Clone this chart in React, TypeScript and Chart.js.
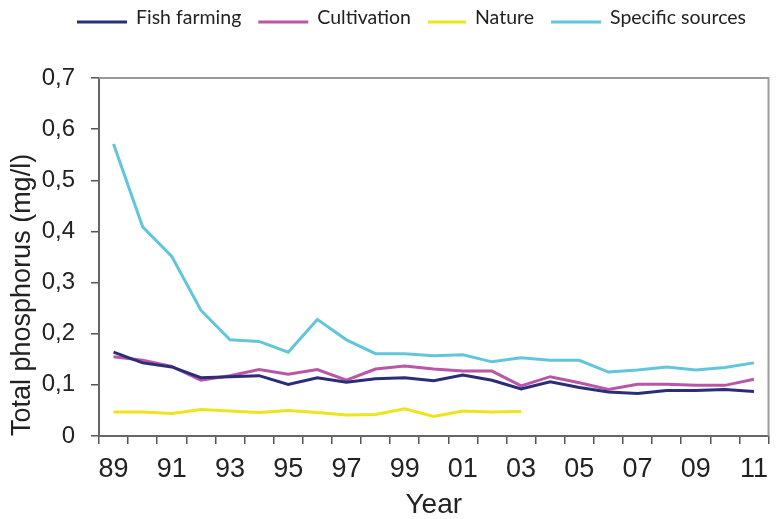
import React, { useEffect, useRef } from 'react';
import { Chart, registerables } from 'chart.js';

Chart.register(...registerables);

const years = ['89', '90', '91', '92', '93', '94', '95', '96', '97', '98', '99', '00', '01', '02', '03', '04', '05', '06', '07', '08', '09', '10', '11'];

const fishFarming = [0.164, 0.143, 0.135, 0.114, 0.116, 0.118, 0.101, 0.114, 0.105, 0.112, 0.114, 0.108, 0.119, 0.109, 0.092, 0.106, 0.095, 0.086, 0.083, 0.089, 0.089, 0.091, 0.087];
const cultivation = [0.155, 0.148, 0.136, 0.109, 0.118, 0.130, 0.121, 0.130, 0.109, 0.131, 0.137, 0.131, 0.127, 0.127, 0.098, 0.116, 0.104, 0.091, 0.101, 0.101, 0.099, 0.099, 0.111];
const nature = [0.047, 0.047, 0.044, 0.052, 0.049, 0.046, 0.050, 0.046, 0.041, 0.042, 0.053, 0.038, 0.049, 0.047, 0.048, null, null, null, null, null, null, null, null];
const specificSources = [0.571, 0.409, 0.351, 0.246, 0.188, 0.185, 0.164, 0.228, 0.188, 0.161, 0.161, 0.157, 0.159, 0.145, 0.153, 0.148, 0.148, 0.125, 0.129, 0.135, 0.129, 0.134, 0.143];

const seriesNames = ['Fish farming', 'Cultivation', 'Nature', 'Specific sources'];
const seriesColors = ['#2a2d78', '#bb55a8', '#eee41c', '#62c6da'];
const yTicks = [0, 0.1, 0.2, 0.3, 0.4, 0.5, 0.6, 0.7];

const AXIS_FONT = "Arial, 'Liberation Sans', sans-serif";

const legendPlugin = {
  id: 'customLegend',
  afterDraw(chart: any) {
    const ctx = chart.ctx;
    ctx.save();
    ctx.font = "19.5px Lato, 'Open Sans', sans-serif";
    let x = 77;
    chart.data.datasets.forEach((ds: any, i: number) => {
      const lineLen = i === 2 ? 38 : 50;
      ctx.strokeStyle = ds.borderColor;
      ctx.lineWidth = 3;
      ctx.beginPath();
      ctx.moveTo(x, 22);
      ctx.lineTo(x + lineLen, 22);
      ctx.stroke();
      x += lineLen + 9;
      ctx.fillStyle = '#222';
      ctx.textBaseline = 'alphabetic';
      ctx.textAlign = 'left';
      ctx.fillText(ds.label, x, 24);
      x += ctx.measureText(ds.label).width + 17;
    });
    ctx.restore();
  },
};

const framePlugin = {
  id: 'frame',
  beforeDatasetsDraw(chart: any) {
    const { ctx, chartArea } = chart;
    ctx.save();
    ctx.strokeStyle = '#9a9a9a';
    ctx.lineWidth = 2;
    ctx.beginPath();
    ctx.moveTo(chartArea.left, chartArea.top);
    ctx.lineTo(chartArea.right, chartArea.top);
    ctx.lineTo(chartArea.right, chartArea.bottom);
    ctx.stroke();
    ctx.restore();
  },
};

export default function App() {
  const ref = useRef<HTMLCanvasElement>(null);
  useEffect(() => {
    const seriesData = [fishFarming, cultivation, nature, specificSources];
    const chart = new Chart(ref.current!, {
      type: 'line',
      data: {
        labels: years,
        datasets: seriesNames.map((name, i) => ({
          label: name,
          data: seriesData[i],
          borderColor: seriesColors[i],
          backgroundColor: seriesColors[i],
          borderWidth: 3,
          pointRadius: 0,
          tension: 0,
          spanGaps: false,
        })),
      },
      options: {
        animation: false,
        responsive: false,
        devicePixelRatio: 1,
        layout: { padding: { top: 78, right: 1, left: 0, bottom: 0 } },
        plugins: { legend: { display: false }, tooltip: { enabled: false } },
        scales: {
          x: {
            type: 'category',
            offset: true,
            afterFit(scale: any) { scale.height = 83; },
            grid: { display: true, offset: true, drawOnChartArea: false, drawTicks: true, tickLength: 8, color: '#555', lineWidth: 1.5 },
            border: { display: true, color: '#666', width: 2 },
            ticks: {
              autoSkip: false,
              maxRotation: 0,
              padding: 9,
              color: '#222',
              font: { family: AXIS_FONT, size: 27 },
              callback: (_v: any, idx: number) => (idx % 2 === 0 ? years[idx] : ''),
            },
            title: { display: true, text: 'Year', color: '#222', font: { family: AXIS_FONT, size: 28, lineHeight: 1 }, padding: { top: 0, bottom: 0 } },
          },
          y: {
            min: 0,
            max: 0.7,
            afterFit(scale: any) { scale.width = 99; },
            afterBuildTicks(scale: any) { scale.ticks = yTicks.map((v) => ({ value: v })); },
            grid: { display: true, drawOnChartArea: false, drawTicks: true, tickLength: 8, color: '#555', lineWidth: 1.5 },
            border: { display: true, color: '#666', width: 2 },
            ticks: {
              padding: 16,
              color: '#222',
              font: { family: AXIS_FONT, size: 24 },
              callback: (v: any) => (v === 0 ? '0' : Number(v).toFixed(1).replace('.', ',')),
            },
            title: { display: true, text: 'Total phosphorus (mg/l)', align: 'start', color: '#222', font: { family: AXIS_FONT, size: 27 }, padding: { top: 6, bottom: 0 } },
          },
        },
      },
      plugins: [legendPlugin, framePlugin],
    });
    return () => chart.destroy();
  }, []);
  return (
    <div style={{ position: 'fixed', left: 0, top: 0, width: 777, height: 519, background: '#fff' }}>
      <canvas ref={ref} width={777} height={519} style={{ display: 'block' }} />
    </div>
  );
}
